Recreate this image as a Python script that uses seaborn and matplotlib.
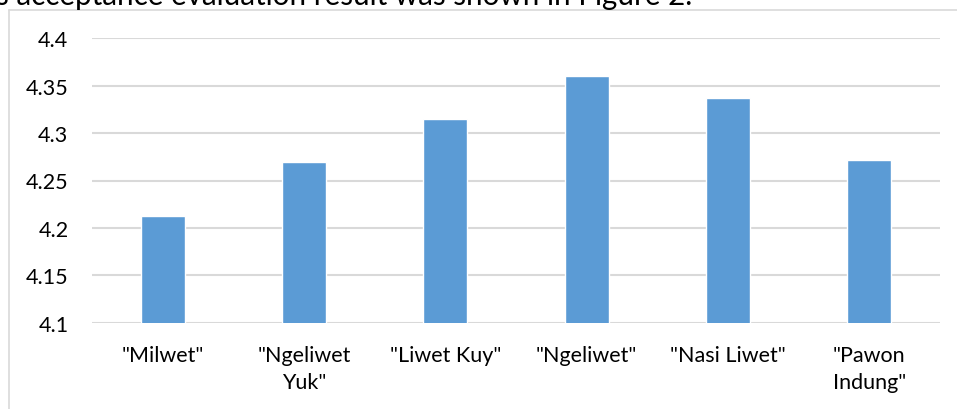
import matplotlib
matplotlib.use("Agg")
import matplotlib.pyplot as plt
import seaborn as sns
import pandas as pd
from matplotlib.lines import Line2D

categories = ['"Milwet"', '"Ngeliwet\nYuk"', '"Liwet Kuy"', '"Ngeliwet"', '"Nasi Liwet"', '"Pawon\nIndung"']
values = [4.213, 4.270, 4.315, 4.360, 4.337, 4.272]
yticks = [4.1, 4.15, 4.2, 4.25, 4.3, 4.35, 4.4]
ytick_labels = ["4.1", "4.15", "4.2", "4.25", "4.3", "4.35", "4.4"]
caption = "s acceptance evaluation result was shown in Figure 2."

sns.set_theme(style="white")
plt.rcParams['font.family'] = ['Lato', 'DejaVu Sans']

W, H = 957, 410
fig = plt.figure(figsize=(W / 100, H / 100), dpi=100)
ax = fig.add_axes([92 / W, 1 - 324 / H, (940 - 92) / W, (324 - 39) / H])

df = pd.DataFrame({"cat": categories, "val": values})
sns.barplot(data=df, x="cat", y="val", color="#5B9BD5", saturation=1, width=0.31, ax=ax, zorder=3)

ax.set_ylim(4.1, 4.4)
ax.set_xlim(-0.5, len(categories) - 0.5)
ax.set_yticks(yticks)
ax.set_yticklabels(ytick_labels)
ax.grid(axis="y", color="#D9D9D9", linewidth=1.5, zorder=0)
ax.grid(axis="x", visible=False)
for s in ax.spines.values():
    s.set_visible(False)
ax.set_xlabel("")
ax.set_ylabel("")
ax.tick_params(axis="y", length=0, pad=17, labelsize=15.5, labelcolor="#000000")
ax.tick_params(axis="x", length=0, pad=16, labelsize=15.5, labelcolor="#000000")
for lab in ax.get_xticklabels():
    lab.set_linespacing(1.45)

# outer chart frame (partially visible)
fig.add_artist(Line2D([9 / W, 9 / W], [0, 1 - 10.5 / H], transform=fig.transFigure, color="#D9D9D9", linewidth=1.2))
fig.add_artist(Line2D([9 / W, 1], [1 - 10.5 / H, 1 - 10.5 / H], transform=fig.transFigure, color="#D9D9D9", linewidth=1.2))

# cut-off caption line above the chart
fig.text(-4 / W, 1 - 5 / H, caption, fontsize=21.3, va="baseline", ha="left", color="#000000")

fig.savefig("out.png", dpi=100)
